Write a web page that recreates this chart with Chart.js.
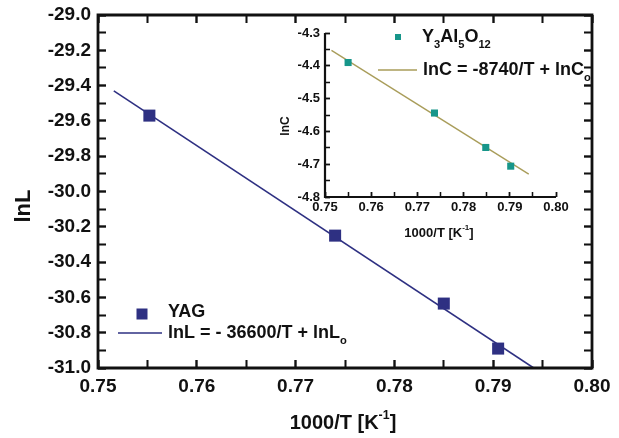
<!DOCTYPE html>
<html><head><meta charset="utf-8">
<script src="https://cdn.jsdelivr.net/npm/chart.js@4/dist/chart.umd.min.js"></script>
<style>
html,body{margin:0;padding:0;background:#fff;}
#wrap{position:relative;width:619px;height:438px;overflow:hidden;}
#main{position:absolute;left:0;top:0;}
#inset{position:absolute;left:270px;top:20px;}
</style></head><body>
<div id="wrap"><canvas id="main" width="619" height="438"></canvas><canvas id="inset" width="349" height="245"></canvas></div>
<script>
const yagX = [0.7552, 0.7740, 0.7850, 0.7905];
const yagLnL = [-29.57, -30.25, -30.635, -30.89];
const yagFitX = [0.7516, 0.7941];
const yagFitLnL = [-29.43, -31.0];
const mainXTicks = [0.75, 0.76, 0.77, 0.78, 0.79, 0.80];
const mainYTicks = [-31.0, -30.8, -30.6, -30.4, -30.2, -30.0, -29.8, -29.6, -29.4, -29.2, -29.0];

const insetX = [0.7550, 0.7737, 0.7848, 0.7902];
const insetLnC = [-4.39, -4.544, -4.649, -4.706];
const insetFitX = [0.7514, 0.7941];
const insetFitLnC = [-4.353, -4.730];
const insetXTicks = [0.75, 0.76, 0.77, 0.78, 0.79, 0.80];
const insetYTicks = [-4.8, -4.7, -4.6, -4.5, -4.4, -4.3];

const mainLabels = { series: 'YAG', fit: 'lnL = - 36600/T + lnL', fitSub: 'o', yTitle: 'lnL', xTitle: '1000/T [K', xSup: '-1', xEnd: ']' };
const insetLabels = { yTitle: 'lnC', fit: 'lnC = -8740/T + lnC', fitSub: 'o' };

const FONT = "'Liberation Sans', Arial, sans-serif";
const TXT = '#111111';
const NAVY = '#2e3082';
const TEAL = '#17968a';
const OLIVE = '#a99d5a';
Chart.defaults.font.family = FONT;

function drawRich(ctx, parts, x, y, size, align) {
  const fnt = s => 'bold ' + s + 'px ' + FONT;
  let total = 0;
  const ws = parts.map(p => { const s = (p.sub || p.sup) ? size * 0.62 : size; ctx.font = fnt(s); const w = ctx.measureText(p.t).width; total += w; return w; });
  let cx = align === 'center' ? x - total / 2 : x;
  ctx.textBaseline = 'middle'; ctx.textAlign = 'left';
  parts.forEach((p, i) => {
    const s = (p.sub || p.sup) ? size * 0.62 : size;
    ctx.font = fnt(s);
    const dy = p.sub ? size * 0.45 : (p.sup ? -size * 0.38 : 0);
    ctx.fillText(p.t, cx, y + dy);
    cx += ws[i];
  });
}

// majors from the tick arrays plus minors halfway between them
function withMinors(vals) {
  const out = [];
  const s = vals.slice().sort((a, b) => a - b);
  s.forEach((v, i) => { out.push(v); if (i < s.length - 1) out.push((v + s[i + 1]) / 2); });
  return out;
}
function isMajor(arr, v) { return arr.some(a => Math.abs(a - v) < 1e-9); }

function drawFrame(chart, box, lw) {
  const ctx = chart.ctx, a = chart.chartArea;
  ctx.save();
  ctx.strokeStyle = TXT; ctx.lineWidth = lw;
  ctx.beginPath();
  if (box) ctx.rect(a.left, a.top, a.right - a.left, a.bottom - a.top);
  else { ctx.moveTo(a.left, a.top); ctx.lineTo(a.left, a.bottom); ctx.lineTo(a.right, a.bottom); }
  ctx.stroke();
  ctx.restore();
}

function drawAnnot(chart, items) {
  const ctx = chart.ctx; ctx.save(); ctx.fillStyle = TXT;
  items.forEach(it => {
    if (it.kind === 'rect') { ctx.fillStyle = it.color; ctx.fillRect(it.x - it.s / 2, it.y - it.s / 2, it.s, it.s); ctx.fillStyle = TXT; }
    else if (it.kind === 'line') { ctx.strokeStyle = it.color; ctx.lineWidth = it.w; ctx.beginPath(); ctx.moveTo(it.x1, it.y); ctx.lineTo(it.x2, it.y); ctx.stroke(); }
    else if (it.kind === 'text') {
      if (it.rot) { ctx.save(); ctx.translate(it.x, it.y); ctx.rotate(-Math.PI / 2); drawRich(ctx, it.parts, 0, 0, it.size, 'center'); ctx.restore(); }
      else drawRich(ctx, it.parts, it.x, it.y, it.size, it.align || 'left');
    }
  });
  ctx.restore();
}

function pts(xs, ys) { return xs.map((v, i) => ({ x: v, y: ys[i] })); }

// an axis whose tick marks point into the plot (negative tick length)
function axis(opts) {
  const tl = opts.tl;
  return {
    type: 'linear', position: opts.position, min: opts.min, max: opts.max,
    afterBuildTicks: s => { s.ticks = withMinors(opts.vals).map(v => ({ value: v })); },
    afterFit: s => {
      if (opts.horizontal) s.height = opts.size; else s.width = opts.size;
      s.paddingTop = 0; s.paddingBottom = 0; s.paddingLeft = 0; s.paddingRight = 0;
    },
    ticks: {
      display: true, autoSkip: false, maxRotation: 0, color: TXT,
      font: { size: opts.font, weight: 'bold' },
      padding: opts.pad - tl,
      callback: v => (opts.labels && isMajor(opts.vals, v)) ? v.toFixed(opts.dec) : ''
    },
    grid: { display: true, drawOnChartArea: false, drawTicks: true, tickLength: tl,
      tickColor: TXT, tickWidth: ctx => (ctx.tick && isMajor(opts.vals, ctx.tick.value)) ? opts.tw : opts.tw * 0.85 },
    border: { display: false }
  };
}

const mainAnnot = [
  { kind: 'rect', color: NAVY, x: 142, y: 314, s: 11 },
  { kind: 'text', parts: [{ t: mainLabels.series }], x: 168, y: 312, size: 18 },
  { kind: 'line', color: NAVY, x1: 118, x2: 162, y: 333, w: 1.6 },
  { kind: 'text', parts: [{ t: mainLabels.fit }, { t: mainLabels.fitSub, sub: true }], x: 168, y: 333, size: 18 },
  { kind: 'text', rot: true, parts: [{ t: mainLabels.yTitle }], x: 24, y: 206, size: 22 },
  { kind: 'text', parts: [{ t: mainLabels.xTitle }, { t: mainLabels.xSup, sup: true }, { t: mainLabels.xEnd }], x: 343, y: 423, size: 20, align: 'center' }
];

new Chart(document.getElementById('main'), {
  type: 'scatter',
  data: { datasets: [
    { label: mainLabels.series, data: pts(yagX, yagLnL), pointStyle: 'rect', pointRadius: 8.5, backgroundColor: NAVY, borderColor: NAVY, borderWidth: 0 },
    { label: 'fit', data: pts(yagFitX, yagFitLnL), showLine: true, pointRadius: 0, borderColor: NAVY, borderWidth: 1.6 }
  ] },
  options: {
    responsive: false, animation: false, events: [],
    layout: { padding: { top: 15, right: 27, left: 0, bottom: 0 } },
    plugins: { legend: { display: false }, tooltip: { enabled: false } },
    scales: {
      x: axis({ position: 'bottom', horizontal: true, size: 70, min: 0.75, max: 0.80, vals: mainXTicks, tl: -8, pad: 7, font: 19, dec: 2, labels: true, tw: 2.4 }),
      y: axis({ position: 'left', horizontal: false, size: 98, min: -31, max: -29, vals: mainYTicks, tl: -8, pad: 7, font: 19, dec: 1, labels: true, tw: 2.4 }),
      x2: axis({ position: 'top', horizontal: true, size: 0, min: 0.75, max: 0.80, vals: mainXTicks, tl: -8, pad: 0, font: 1, dec: 2, labels: false, tw: 2.4 }),
      y2: axis({ position: 'right', horizontal: false, size: 0, min: -31, max: -29, vals: mainYTicks, tl: -8, pad: 0, font: 1, dec: 1, labels: false, tw: 2.4 })
    }
  },
  plugins: [{ id: 'mainDeco', afterDraw(chart) { drawFrame(chart, true, 2.8); drawAnnot(chart, mainAnnot); } }]
});

const insetAnnot = [
  { kind: 'rect', color: TEAL, x: 128, y: 17, s: 6 },
  { kind: 'text', parts: [{ t: 'Y' }, { t: '3', sub: true }, { t: 'Al' }, { t: '5', sub: true }, { t: 'O' }, { t: '12', sub: true }], x: 152, y: 17, size: 18 },
  { kind: 'line', color: OLIVE, x1: 108, x2: 147, y: 50, w: 1.4 },
  { kind: 'text', parts: [{ t: insetLabels.fit }, { t: insetLabels.fitSub, sub: true }], x: 153, y: 50, size: 18 },
  { kind: 'text', rot: true, parts: [{ t: insetLabels.yTitle }], x: 16, y: 106, size: 12 },
  { kind: 'text', parts: [{ t: '1000/T [K' }, { t: '-1', sup: true }, { t: ']' }], x: 169, y: 213, size: 13, align: 'center' }
];

new Chart(document.getElementById('inset'), {
  type: 'scatter',
  data: { datasets: [
    { label: 'Y3Al5O12', data: pts(insetX, insetLnC), pointStyle: 'rect', pointRadius: 5, backgroundColor: TEAL, borderColor: TEAL, borderWidth: 0 },
    { label: 'fit', data: pts(insetFitX, insetFitLnC), showLine: true, pointRadius: 0, borderColor: OLIVE, borderWidth: 1.4 }
  ] },
  options: {
    responsive: false, animation: false, events: [],
    layout: { padding: { top: 13, right: 63, left: 0, bottom: 0 } },
    plugins: { legend: { display: false }, tooltip: { enabled: false } },
    scales: {
      x: axis({ position: 'bottom', horizontal: true, size: 68, min: 0.75, max: 0.80, vals: insetXTicks, tl: -5, pad: 3, font: 13, dec: 2, labels: true, tw: 1.8 }),
      y: axis({ position: 'left', horizontal: false, size: 55, min: -4.8, max: -4.3, vals: insetYTicks, tl: -5, pad: 5, font: 13, dec: 1, labels: true, tw: 1.8 })
    }
  },
  plugins: [{ id: 'insetDeco', afterDraw(chart) { drawFrame(chart, false, 2.2); drawAnnot(chart, insetAnnot); } }]
});
</script>
</body></html>
